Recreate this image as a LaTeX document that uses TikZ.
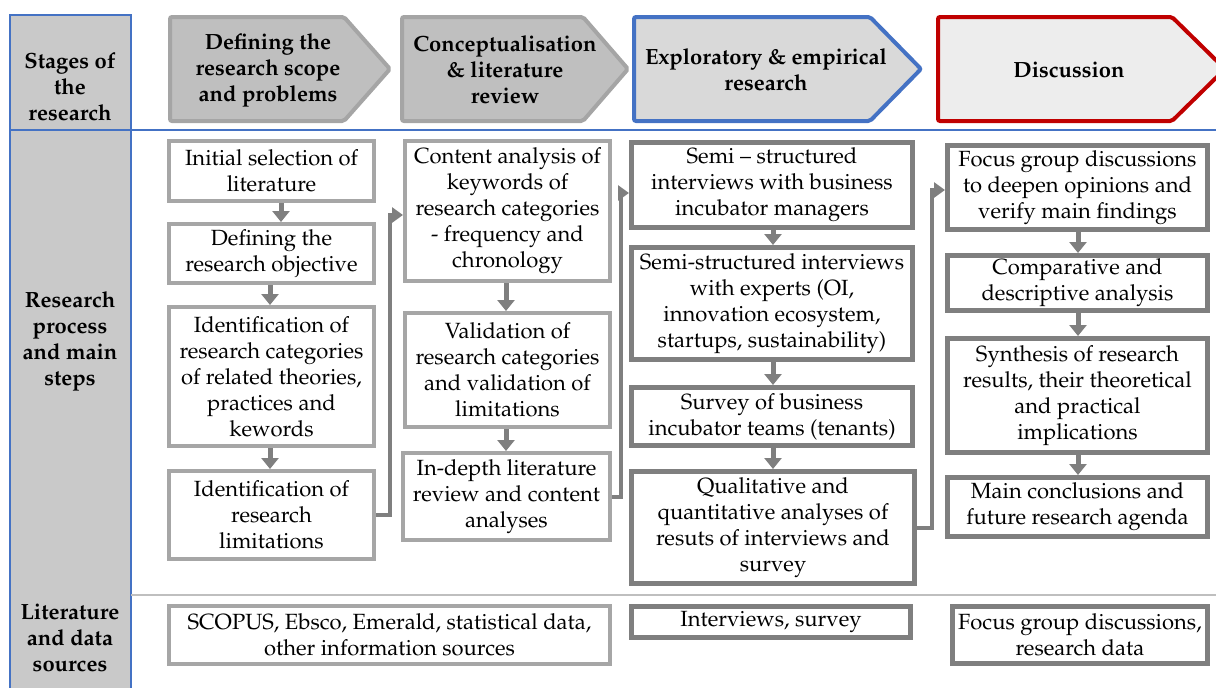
\documentclass[tikz,border=0pt]{standalone}
\usepackage[T1]{fontenc}
\usepackage{mathpazo}
\usetikzlibrary{arrows.meta}
\definecolor{lgb}{HTML}{A6A6A6}
\definecolor{dgb}{HTML}{7F7F7F}
\definecolor{arrc}{HTML}{7F7F7F}
\definecolor{colfill}{HTML}{C9C9C9}
\definecolor{stfill}{HTML}{BFBFBF}
\definecolor{stdraw}{HTML}{A5A5A5}
\definecolor{bluec}{HTML}{4472C4}
\definecolor{redc}{HTML}{C00000}
\definecolor{st3fill}{HTML}{D9D9D9}
\definecolor{st4fill}{HTML}{EDEDED}
\definecolor{sepgray}{HTML}{BFBFBF}
\tikzset{
  txt/.style={font=\fontsize{22}{26}\selectfont, align=center, inner sep=0pt},
  btxt/.style={font=\fontsize{22}{26}\selectfont\bfseries, align=center, inner sep=0pt},
  lbox/.style={txt, draw=lgb, line width=4pt, fill=white},
  dbox/.style={txt, draw=dgb, line width=5pt, fill=white},
  vflow/.style={draw=arrc, line width=5pt, -{Triangle[width=17pt,length=11pt]}},
  elbow/.style={draw=arrc, line width=4pt, -{Triangle[width=15pt,length=11pt]}},
  stagegray/.style={draw=stdraw, fill=stfill, line width=4pt, rounded corners=2pt},
}
\begin{document}
\begin{tikzpicture}[x=1pt,y=-1pt]
\useasboundingbox (0,0) rectangle (1216,688);
% left column
\fill[colfill] (10,15) rectangle (131,688);
\draw[bluec, line width=1.2pt] (10,688) -- (10,15) -- (131,15) -- (131,688);
\draw[bluec, line width=1.2pt] (10,130) -- (1216,130);
\draw[sepgray, line width=1.5pt] (131,595) -- (1216,595);
\node[btxt] (lab1) at (70,87) {Stages of\\the\\research};
\node[btxt] (lab2) at (70,341) {Research\\process\\and main\\steps};
\node[btxt] (lab3) at (70,638) {Literature\\and data\\sources};
% stages
\draw[stagegray] (170,17) -- (344,17) -- (390,69) -- (344,121) -- (170,121) -- cycle;
\node[btxt] (st1) at (268,70) {Defining the\\research scope\\and problems};
\draw[stagegray] (402,17) -- (583,17) -- (628,69) -- (583,121) -- (402,121) -- cycle;
\node[btxt] (st2) at (505,70) {Conceptualisation\\\& literature\\review};
\draw[draw=bluec, fill=st3fill, line width=4pt, rounded corners=2pt] (634,17) -- (870,17) -- (921,69) -- (870,121) -- (634,121) -- cycle;
\node[btxt] (st3) at (766,70) {Exploratory \& empirical\\research};
\draw[draw=redc, fill=st4fill, line width=4pt, rounded corners=2pt] (938,17) -- (1172,17) -- (1225,69) -- (1172,121) -- (938,121) -- cycle;
\node[btxt] (st4) at (1069,70) {Discussion};
% column 1
\node[lbox, minimum width=205pt, minimum height=60pt] (b1) at (271.5,171) {Initial selection of\\literature};
\node[lbox, minimum width=205pt, minimum height=59pt] (b2) at (271.5,253.5) {Defining the\\research objective};
\node[lbox, minimum width=205pt, minimum height=139pt] (b3) at (271.5,376.5) {Identification of\\research categories\\of related theories,\\practices and\\kewords};
\node[lbox, minimum width=205pt, minimum height=88pt] (b4) at (271.5,515) {Identification of\\research\\limitations};
% column 2
\node[lbox, minimum width=205pt, minimum height=140pt] (b5) at (507.5,211) {Content analysis of\\keywords of\\research categories\\- frequency and\\chronology};
\node[lbox, minimum width=205pt, minimum height=114pt] (b6) at (507.5,370) {Validation of\\research categories\\and validation of\\limitations};
\node[lbox, minimum width=207pt, minimum height=87pt] (b7) at (506.5,496.5) {In-depth literature\\review and content\\analyses};
% column 3
\node[dbox, minimum width=281pt, minimum height=85pt] (b8) at (772,185) {Semi -- structured\\interviews with business\\incubator managers};
\node[dbox, minimum width=281pt, minimum height=112pt] (b9) at (772,303.5) {Semi-structured interviews\\with experts (OI,\\innovation ecosystem,\\startups, sustainability)};
\node[dbox, minimum width=281pt, minimum height=58pt] (b10) at (772,416.5) {Survey of business\\incubator teams (tenants)};
\node[dbox, minimum width=283pt, minimum height=112pt] (b11) at (773,527.5) {Qualitative and\\quantitative analyses of\\resuts of interviews and\\survey};
% column 4
\node[dbox, minimum width=260pt, minimum height=84pt] (b12) at (1077.5,187.5) {Focus group discussions\\to deepen opinions and\\verify main findings};
\node[dbox, minimum width=260pt, minimum height=55pt] (b13) at (1077.5,283) {Comparative and\\descriptive analysis};
\node[dbox, minimum width=260pt, minimum height=114pt] (b14) at (1077.5,395.5) {Synthesis of research\\results, their theoretical\\and practical\\implications};
\node[dbox, minimum width=260pt, minimum height=59pt] (b15) at (1077.5,507) {Main conclusions and\\future research agenda};
% sources
\node[lbox, minimum width=441pt, minimum height=58pt] (s1) at (389.5,635) {SCOPUS, Ebsco, Emerald, statistical data,\\other information sources};
\node[dbox, minimum width=279pt, minimum height=31pt] (s2) at (771,622) {Interviews, survey};
\node[dbox, minimum width=255pt, minimum height=57pt] (s3) at (1080,635) {Focus group discussions,\\research data};
% vertical flows
\draw[vflow] (b1.south -| 281,0) -- (b2.north -| 281,0);
\draw[vflow] (b2.south -| 270,0) -- (b3.north -| 270,0);
\draw[vflow] (b3.south -| 270,0) -- (b4.north -| 270,0);
\draw[vflow] (b5.south -| 506,0) -- (b6.north -| 506,0);
\draw[vflow] (b6.south -| 506,0) -- (b7.north -| 506,0);
\draw[vflow] (b8.south -| 773,0) -- (b9.north -| 773,0);
\draw[vflow] (b9.south -| 773,0) -- (b10.north -| 773,0);
\draw[vflow] (b10.south -| 773,0) -- (b11.north -| 773,0);
\draw[vflow] (b12.south -| 1078,0) -- (b13.north -| 1078,0);
\draw[vflow] (b13.south -| 1078,0) -- (b14.north -| 1078,0);
\draw[vflow] (b14.south -| 1078,0) -- (b15.north -| 1078,0);
% elbow connectors
\coordinate (k1) at (390,215);
\coordinate (k2) at (621,193);
\coordinate (k3) at (932,190);
\draw[elbow] (b4.east) -| (k1) -- (k1 -| b5.west);
\draw[elbow] (b7.east) -| (k2) -- (k2 -| b8.west);
\draw[elbow] (b11.east) -| (k3) -- (k3 -| b12.west);
\end{tikzpicture}
\end{document}
